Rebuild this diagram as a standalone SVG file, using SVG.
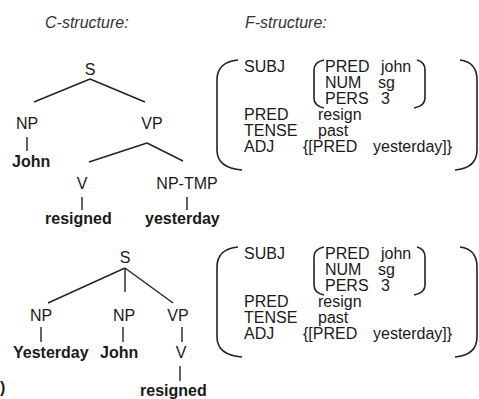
<svg xmlns="http://www.w3.org/2000/svg" width="479" height="399" viewBox="0 0 479 399">
<style>
text{font-family:"Liberation Sans",Arial,sans-serif;font-size:16px;fill:#1a1a1a}
.t{font-style:italic;fill:#333}
.b{font-weight:bold}
.m{text-anchor:middle}
.e line{stroke:#222;stroke-width:1.4}
.br{fill:none;stroke:#222;stroke-width:1.6}
</style>
<defs>
<g id="fs">
<path class="br" d="M238 60 Q217 62 217 80 L217 150 Q217 168 242 170"/>
<path class="br" d="M460 60 Q477 62 477 80 L477 150 Q477 168 455 170"/>
<path class="br" d="M324 60 Q314 62 314 70 L314 98 Q314 106 324 108"/>
<path class="br" d="M417 60 Q425 62 425 70 L425 98 Q425 106 414 108"/>
<text x="244" y="72">SUBJ</text>
<text x="325" y="72">PRED</text><text x="381" y="72">john</text>
<text x="325" y="88">NUM</text><text x="378" y="88">sg</text>
<text x="325" y="104">PERS</text><text x="381" y="104">3</text>
<text x="244" y="120">PRED</text><text x="318" y="120">resign</text>
<text x="244" y="136">TENSE</text><text x="318" y="136">past</text>
<text x="244" y="152">ADJ</text><text x="303" y="152">{[PRED</text><text x="373" y="152">yesterday]}</text>
</g>
</defs>
<rect width="479" height="399" fill="#fff"/>
<text class="t" x="45" y="28">C-structure:</text>
<text class="t" x="245" y="28">F-structure:</text>
<g id="edges" class="e">
<line x1="90" y1="79" x2="34" y2="102"/>
<line x1="90" y1="79" x2="145" y2="102"/>
<line x1="27" y1="137" x2="27" y2="151"/>
<line x1="147" y1="143" x2="89" y2="162"/>
<line x1="147" y1="143" x2="183" y2="161"/>
<line x1="82" y1="197" x2="82" y2="210"/>
<line x1="187" y1="197" x2="187" y2="210"/>
<line x1="125" y1="268" x2="48" y2="303"/>
<line x1="125" y1="268" x2="125" y2="292"/>
<line x1="125" y1="268" x2="173" y2="303"/>
<line x1="41" y1="327" x2="41" y2="342"/>
<line x1="123" y1="327" x2="123" y2="342"/>
<line x1="182" y1="327" x2="182" y2="342"/>
<line x1="180" y1="366" x2="180" y2="381"/>
</g>
<g id="t1-S"><text class="m" x="90" y="75">S</text></g>
<g id="t1-NP"><text class="m" x="27" y="129">NP</text></g>
<g id="t1-VP"><text class="m" x="152" y="129">VP</text></g>
<g id="t1-John"><text class="b" x="12" y="167">John</text></g>
<g id="t1-V"><text class="m" x="82" y="189">V</text></g>
<g id="t1-NPTMP"><text class="m" x="187" y="189">NP-TMP</text></g>
<g id="t1-resigned"><text class="b" x="45" y="224">resigned</text></g>
<g id="t1-yesterday"><text class="b" x="145" y="224">yesterday</text></g>
<g id="t2-S"><text class="m" x="125" y="263">S</text></g>
<g id="t2-NP1"><text class="m" x="41" y="321">NP</text></g>
<g id="t2-NP2"><text class="m" x="124" y="321">NP</text></g>
<g id="t2-VP"><text class="m" x="178" y="321">VP</text></g>
<g id="t2-Yesterday"><text class="b" x="13" y="358">Yesterday</text></g>
<g id="t2-John"><text class="b" x="100" y="358">John</text></g>
<g id="t2-V"><text class="m" x="181" y="358">V</text></g>
<g id="t2-resigned"><text class="b" x="140" y="396">resigned</text></g>
<text class="b" x="0" y="393">)</text>
<g id="f1"><use href="#fs"/></g>
<g id="f2"><use href="#fs" transform="translate(0,187)"/></g>
</svg>
